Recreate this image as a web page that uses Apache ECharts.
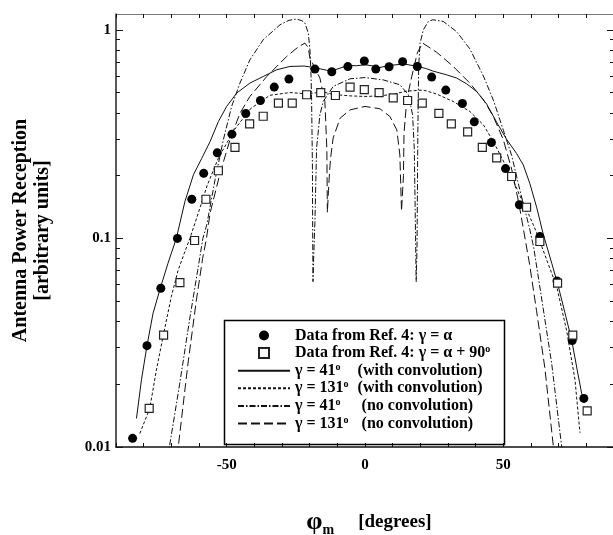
<!DOCTYPE html>
<html><head><meta charset="utf-8">
<script src="https://cdn.jsdelivr.net/npm/echarts@6/dist/echarts.min.js"></script>
<style>html,body{margin:0;padding:0;background:#fff}#c{width:613px;height:535px}</style>
</head><body><div id="c"></div>
<script>
// ---- tick labels ----
const xTickLabels = [-50, 0, 50];
const yTickValues = [0.01, 0.1, 1];
const yTickLabels = ['0.01', '0.1', '1'];
const yMinorTicks = [0.02,0.03,0.04,0.05,0.06,0.07,0.08,0.09,0.2,0.3,0.4,0.5,0.6,0.7,0.8,0.9];

// ---- series names ----
const seriesNames = [
  'Data from Ref. 4: γ = α',
  'Data from Ref. 4: γ = α + 90°',
  'γ = 41° (with convolution)',
  'γ = 131° (with convolution)',
  'γ = 41° (no convolution)',
  'γ = 131° (no convolution)'
];

// ---- measured data (phi_m [deg], power) ----
const dataGammaAlpha = [[-84.0,0.0110],[-78.8,0.0306],[-73.8,0.0577],[-67.8,0.100],[-62.6,0.154],[-58.3,0.205],[-53.4,0.257],[-48.1,0.316],[-43.1,0.397],[-37.8,0.458],[-32.8,0.531],[-27.5,0.580],[-18.1,0.648],[-12.0,0.629],[-6.2,0.666],[-0.25,0.708],[3.9,0.648],[8.7,0.665],[13.6,0.703],[18.9,0.667],[24.1,0.593],[29.2,0.514],[35.2,0.443],[39.5,0.362],[45.7,0.288],[50.8,0.216],[55.8,0.145],[63.2,0.102],[69.4,0.0625],[74.9,0.0324],[79.1,0.0171]];
const dataGammaAlpha90 = [[-78.0,0.0153],[-72.8,0.0344],[-66.9,0.0614],[-61.6,0.0977],[-57.5,0.154],[-53.0,0.211],[-47.0,0.273],[-41.7,0.354],[-36.8,0.385],[-31.3,0.445],[-26.3,0.445],[-21.1,0.488],[-16.0,0.500],[-10.7,0.484],[-5.4,0.531],[-0.25,0.516],[5.1,0.500],[10.2,0.472],[15.4,0.458],[20.7,0.445],[26.7,0.397],[31.2,0.354],[37.1,0.324],[42.4,0.273],[47.6,0.243],[53.0,0.198],[58.4,0.141],[63.2,0.0966],[69.6,0.061],[75.1,0.0344],[80.3,0.0149]];

// ---- model curves ----
const conv41 = [[-82.6,0.0137],[-80.8,0.021],[-78.8,0.0306],[-76.6,0.0438],[-74.0,0.0577],[-71.2,0.076],[-68.2,0.100],[-65.1,0.150],[-62.0,0.202],[-59.0,0.242],[-56.0,0.291],[-53.0,0.363],[-50.0,0.429],[-46.4,0.497],[-41.6,0.555],[-36.8,0.597],[-31.9,0.643],[-27.1,0.667],[-22,0.67],[-18,0.658],[-14,0.64],[-12,0.635],[-9,0.655],[-6,0.675],[-3,0.672],[0,0.68],[3,0.67],[5,0.658],[9,0.675],[14,0.685],[19,0.668],[22,0.652],[24.7,0.633],[29.5,0.608],[33.1,0.587],[36.8,0.55],[40.4,0.505],[44.0,0.44],[47.6,0.36],[51.2,0.298],[54.8,0.255],[57.2,0.225],[59.6,0.183],[62.1,0.14],[64.4,0.105],[67.5,0.076],[69.9,0.0587],[72.3,0.0438],[74.7,0.0326],[76.7,0.0234],[78.3,0.0181],[79.4,0.0163]];
const conv131 = [[-81.4,0.0116],[-77.8,0.0153],[-75.4,0.0234],[-73.0,0.0338],[-70.0,0.0526],[-67.6,0.07],[-65.3,0.085],[-63.3,0.1],[-61.3,0.120],[-57.0,0.18],[-52.8,0.246],[-47.1,0.333],[-41.5,0.417],[-34.4,0.485],[-27.1,0.5],[-21.1,0.493],[-15.1,0.503],[-11.5,0.49],[-5.4,0.482],[0,0.479],[5.4,0.482],[10.2,0.491],[15.1,0.508],[21.1,0.514],[25.9,0.492],[31.9,0.453],[37.9,0.406],[42.8,0.350],[46.4,0.291],[50.0,0.235],[53.0,0.197],[56.0,0.16],[59.0,0.132],[62.0,0.107],[65.5,0.08],[69.3,0.0587],[72.9,0.036],[75.9,0.021],[77.7,0.0117]];
const noConv41 = [[-71.2,0.009],[-70.7,0.01],[-67,0.02],[-63.5,0.04],[-60.5,0.07],[-58.6,0.1],[-57.2,0.116],[-54.2,0.191],[-51.2,0.297],[-48.2,0.429],[-45.2,0.555],[-41.6,0.718],[-36.8,0.895],[-30.7,1.057],[-27.5,1.11],[-24.7,1.125],[-22.8,1.105],[-21.7,1.077],[-20.5,0.964],[-19.9,0.80],[-19.5,0.6],[-19.3,0.462],[-19.0,0.22],[-18.9,0.1],[-18.8,0.062],[-18.5,0.085],[-18.1,0.12],[-17.5,0.271],[-16.3,0.391],[-15.1,0.453],[-11.5,0.535],[-5.4,0.582],[0,0.590],[6.6,0.575],[12.6,0.545],[15.7,0.488],[17.2,0.391],[17.8,0.271],[18.2,0.12],[18.5,0.062],[18.8,0.091],[19.1,0.319],[19.4,0.667],[19.9,0.863],[21.1,1.0],[22.9,1.096],[24.5,1.117],[28.3,1.096],[33.1,0.98],[37.9,0.81],[42.8,0.6],[46.4,0.46],[50.0,0.33],[53.0,0.25],[56.0,0.17],[59.6,0.11],[61.0,0.09],[64,0.05],[67.5,0.025],[71.1,0.01],[71.6,0.009]];
const noConv131 = [[-68.0,0.009],[-67.5,0.01],[-64,0.025],[-61,0.05],[-58.7,0.08],[-57.3,0.1],[-56,0.132],[-52.4,0.205],[-48.8,0.297],[-45.2,0.398],[-41.6,0.479],[-35.5,0.597],[-28.3,0.745],[-24,0.83],[-21.7,0.863],[-20.5,0.82],[-19.9,0.731],[-16.3,0.587],[-14.5,0.453],[-13.8,0.271],[-13.6,0.133],[-13.2,0.17],[-12.8,0.21],[-12.4,0.245],[-11.5,0.303],[-9.0,0.377],[-5.4,0.413],[0,0.429],[5.4,0.418],[9.0,0.384],[11.5,0.331],[12.6,0.251],[13.2,0.135],[13.9,0.2],[14.1,0.32],[15.1,0.462],[16.9,0.597],[18.9,0.773],[20.8,0.864],[25.9,0.78],[31.9,0.667],[37.9,0.555],[42.8,0.462],[46.4,0.384],[50.0,0.297],[53.0,0.215],[55.5,0.15],[57.3,0.11],[59.5,0.075],[62,0.045],[65,0.024],[68.1,0.01],[68.5,0.009]];

const FONT = 'Liberation Serif';
const legendRich = {};
legendRich[seriesNames[0]] = 'Data from Ref. 4: γ = α';
legendRich[seriesNames[1]] = 'Data from Ref. 4: γ = α + 90{sup|o}';
legendRich[seriesNames[2]] = 'γ = 41{sup|o}{s3| }(with convolution)';
legendRich[seriesNames[3]] = 'γ = 131{sup|o}{s4| }(with convolution)';
legendRich[seriesNames[4]] = 'γ = 41{sup|o}{s5| }(no convolution)';
legendRich[seriesNames[5]] = 'γ = 131{sup|o}{s6| }(no convolution)';

const yMin = 0.01, yMax = 1.19, xMin = -90, xMax = 90;
const yAllTicks = yTickValues.concat(yMinorTicks);
function yLabel(v) {
  for (let i = 0; i < yTickValues.length; i++) {
    if (Math.abs(v - yTickValues[i]) / yTickValues[i] < 1e-6) return yTickLabels[i];
  }
  return '';
}
const lblStyle = {fontFamily: FONT, fontWeight: 'bold', fontSize: 15, color: '#000'};
const tickColor = '#111';
const hiddenSym = {opacity: 0};

function yAx(pos, extra) {
  return Object.assign({
    type: 'log', logBase: 10, min: yMin, max: yMax, position: pos, offset: 0,
    splitLine: {show: false}, minorTick: {show: false}
  }, extra);
}

const chart = echarts.init(document.getElementById('c'), null, {renderer: 'canvas'});
chart.setOption({
  animation: false,
  backgroundColor: '#fff',
  grid: {left: 116, top: 14, right: -1, bottom: 88, outerBoundsMode: 'none'},
  xAxis: [{
    type: 'value', min: xMin, max: xMax, interval: 10, position: 'bottom',
    axisLine: {onZero: false, lineStyle: {color: '#111', width: 1.5}},
    axisTick: {inside: true, length: 4, lineStyle: {color: tickColor}},
    axisLabel: Object.assign({margin: 11, formatter: v => xTickLabels.indexOf(v) >= 0 ? String(v) : ''}, lblStyle),
    splitLine: {show: false},
    name: '{phi|φ}{sub|m}{gap| }{deg|[degrees]}',
    nameLocation: 'middle', nameGap: 60,
    nameTextStyle: {
      padding: [0, 0, 0, 8],
      rich: {
        phi: {fontFamily: FONT, fontWeight: 'bold', fontSize: 26, color: '#000', lineHeight: 30},
        sub: {fontFamily: FONT, fontWeight: 'bold', fontSize: 14, color: '#000', verticalAlign: 'bottom', lineHeight: 30, padding: [12, 0, 0, 0]},
        gap: {width: 24},
        deg: {fontFamily: FONT, fontWeight: 'bold', fontSize: 19, color: '#000', lineHeight: 30}
      }
    }
  }, {
    type: 'value', min: xMin, max: xMax, interval: 10, position: 'top',
    axisLine: {onZero: false, lineStyle: {color: '#777', width: 1.2}},
    axisTick: {inside: true, length: 4, lineStyle: {color: tickColor}},
    axisLabel: {show: false}, splitLine: {show: false}
  }],
  yAxis: [
    yAx('left', {
      axisLine: {onZero: false, lineStyle: {color: '#222', width: 1.5}},
      axisTick: {inside: true, length: 4, customValues: yAllTicks, lineStyle: {color: tickColor, width: 1}},
      axisLabel: Object.assign({margin: 5, formatter: yLabel, customValues: yTickValues}, lblStyle),
      name: 'Antenna Power Reception\n[arbitrary units]',
      nameLocation: 'middle', nameRotate: 90, nameGap: 62,
      nameTextStyle: {fontFamily: FONT, fontWeight: 'bold', fontSize: 20, color: '#000', lineHeight: 22}
    }),
    yAx('left', {
      axisLine: {show: false, onZero: false},
      axisTick: {inside: true, length: 7, customValues: yTickValues, lineStyle: {color: tickColor, width: 1}},
      axisLabel: {show: false}
    }),
    yAx('right', {
      axisLine: {onZero: false, lineStyle: {color: '#222', width: 1.5}},
      axisTick: {inside: true, length: 4, customValues: yAllTicks, lineStyle: {color: tickColor}},
      axisLabel: {show: false}
    }),
    yAx('right', {
      axisLine: {show: false, onZero: false},
      axisTick: {inside: true, length: 7, customValues: yTickValues, lineStyle: {color: tickColor}},
      axisLabel: {show: false}
    })
  ],
  legend: {
    orient: 'vertical', left: 237, top: 327, padding: 0, itemGap: 0.6,
    itemWidth: 52, itemHeight: 10, selectedMode: false, symbolKeepAspect: true,
    data: [
      {name: seriesNames[0], icon: 'circle'},
      {name: seriesNames[1], icon: 'path://M0,0L10,0L10,10L0,10Z'},
      {name: seriesNames[2], itemStyle: hiddenSym},
      {name: seriesNames[3], itemStyle: hiddenSym},
      {name: seriesNames[4], itemStyle: hiddenSym},
      {name: seriesNames[5], itemStyle: hiddenSym}
    ],
    formatter: n => legendRich[n],
    textStyle: {
      fontFamily: FONT, fontWeight: 'bold', fontSize: 16, lineHeight: 17, color: '#000',
      rich: {
        sup: {fontFamily: FONT, fontWeight: 'bold', fontSize: 10, color: '#000', verticalAlign: 'top', lineHeight: 17},
        s3: {width: 17}, s4: {width: 9}, s5: {width: 21}, s6: {width: 13}
      }
    }
  },
  graphic: [{
    type: 'rect', left: 222, top: 318, z: 3,
    shape: {width: 280, height: 124},
    style: {fill: 'none', stroke: '#000', lineWidth: 1.5}
  }],
  series: [
    {name: seriesNames[2], type: 'line', data: conv41, symbol: 'none', z: 2,
     itemStyle: {color: '#111'}, lineStyle: {color: '#111', width: 1, type: 'solid'}},
    {name: seriesNames[3], type: 'line', data: conv131, symbol: 'none', z: 2,
     itemStyle: {color: '#111'}, lineStyle: {color: '#111', width: 1, type: [3, 2]}},
    {name: seriesNames[4], type: 'line', data: noConv41, symbol: 'none', z: 2,
     itemStyle: {color: '#111'}, lineStyle: {color: '#111', width: 1, type: [6, 2, 1.5, 2]}},
    {name: seriesNames[5], type: 'line', data: noConv131, symbol: 'none', z: 2,
     itemStyle: {color: '#111'}, lineStyle: {color: '#111', width: 1, type: [9, 4]}},
    {name: seriesNames[0], type: 'scatter', data: dataGammaAlpha, symbol: 'circle', symbolSize: 9, z: 5,
     itemStyle: {color: '#000', opacity: 1}},
    {name: seriesNames[1], type: 'scatter', data: dataGammaAlpha90, symbol: 'rect', symbolSize: 8, z: 5,
     itemStyle: {color: '#fff', borderColor: '#222', borderWidth: 1.2, opacity: 1}}
  ]
});
</script></body></html>
